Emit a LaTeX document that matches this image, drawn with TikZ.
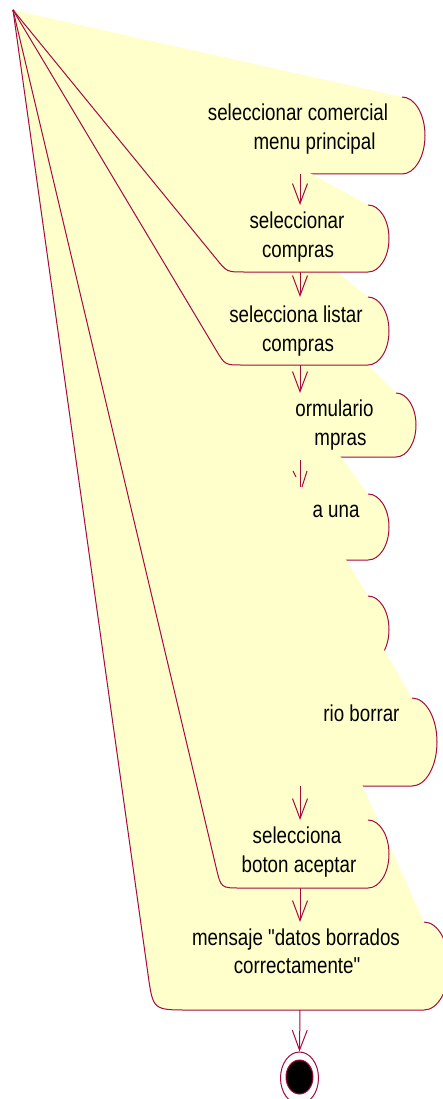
\documentclass[tikz,border=0pt]{standalone}
\usepackage{fontspec}
\setmainfont{Liberation Sans}
\usetikzlibrary{arrows.meta,shapes.geometric}
\definecolor{rline}{RGB}{165,10,65}
\definecolor{rfill}{RGB}{255,255,204}
\newcommand\sqz[1]{\scalebox{0.815}[1]{#1}}
% activity shape: #1 xa, #2 ya, #3 yb, #4 rx, #5 corner x, #6 corner radius
\newcommand\actbox[6]{%
 \pgfmathsetmacro\ABcy{(#2+#3)/2}%
 \pgfmathsetmacro\ABry{(#3-#2)/2}%
 \pgfmathsetmacro\ABxr{#1+#4}%
 \pgfmathsetmacro\ABxk{#1+0.5523*#4}%
 \pgfmathsetmacro\AByu{\ABcy-0.5523*\ABry}%
 \pgfmathsetmacro\AByd{\ABcy+0.5523*\ABry}%
 \pgfmathsetmacro\ABL{100*veclen((13-#5)/100,(10-#3)/100)}%
 \pgfmathsetmacro\ABf{#6/\ABL}%
 \pgfmathsetmacro\ABax{#5+\ABf*(13-#5)}%
 \pgfmathsetmacro\ABay{#3+\ABf*(10-#3)}%
 \pgfmathsetmacro\ABbx{#5+#6}%
 \fill[rfill] (13,10) -- (#1,#2) .. controls (\ABxk,#2) and (\ABxr,\AByu) .. (\ABxr,\ABcy) .. controls (\ABxr,\AByd) and (\ABxk,#3) .. (#1,#3) -- (\ABbx,#3) .. controls (#5,#3) .. (\ABax,\ABay) -- cycle;
 \draw[rline] (#1,#2) .. controls (\ABxk,#2) and (\ABxr,\AByu) .. (\ABxr,\ABcy) .. controls (\ABxr,\AByd) and (\ABxk,#3) .. (#1,#3) -- (\ABbx,#3) .. controls (#5,#3) .. (\ABax,\ABay) -- (13,10);
}
\begin{document}
\begin{tikzpicture}[x=1pt,y=-1pt,line width=1pt,
  lbl/.style={inner sep=0pt,anchor=base,font=\fontsize{23}{29}\selectfont,text=black},
  frag/.style={lbl,anchor=base east},
  flow/.style={draw=rline,-{Straight Barb[length=20pt,width=15pt]}}]
\useasboundingbox (0,0) rectangle (442,1099);
% shapes, in the order in which they overlap
\actbox{402}{97}{174}{23}{225}{12}   % 1
\actbox{396}{393}{457}{20}{225}{12}  % 4
\actbox{368}{494}{560}{21}{225}{12}  % 5
\actbox{368}{596}{663}{21}{225}{12}  % 6
\actbox{412}{698}{786}{25}{225}{12}  % 7
\actbox{424}{922}{1010}{25}{153}{36} % 9
\actbox{368}{820}{888}{21}{221}{20}  % 8
\actbox{368}{297}{365}{21}{225}{17}  % 3
\actbox{368}{205}{272}{21}{227}{17}  % 2
% texts
\node[lbl] (t1a) at (298,121) {\sqz{seleccionar comercial}};
\node[frag] (t1b) at (376,150) {\sqz{menu principal}};
\node[lbl] (t2a) at (297,229) {\sqz{seleccionar}};
\node[lbl] (t2b) at (298,258) {\sqz{compras}};
\node[lbl] (t3a) at (296,322) {\sqz{selecciona listar}};
\node[lbl] (t3b) at (298,351) {\sqz{compras}};
\node[frag] (t4a) at (374,416) {\sqz{ormulario}};
\node[frag] (t4b) at (367,445) {\sqz{mpras}};
\node[frag] (t5a) at (360,517) {\sqz{a una}};
\node[frag] (t7a) at (400,721) {\sqz{rio borrar}};
\node[lbl] (t8a) at (297,843) {\sqz{selecciona}};
\node[lbl] (t8b) at (299,872) {\sqz{boton aceptar}};
\node[lbl] (t9a) at (296,945) {\sqz{mensaje \textquotedbl datos borrados}};
\node[lbl] (t9b) at (297,973) {\sqz{correctamente\textquotedbl}};
% connector end points
\coordinate (b1s) at (300,174); \coordinate (b2n) at (300,205);
\coordinate (b2s) at (300,272); \coordinate (b3n) at (300,297);
\coordinate (b3s) at (300,365); \coordinate (b4n) at (300,393);
\coordinate (b45a) at (300,460); \coordinate (b45b) at (300,487);
\coordinate (b7s) at (300,786); \coordinate (b8n) at (300,820);
\coordinate (b8s) at (300,888); \coordinate (b9n) at (300,922);
\coordinate (b9s) at (300,1010);
% final state
\node (endo) [draw=rline,fill=white,ellipse,minimum width=38pt,minimum height=52pt,inner sep=0pt] at (299.5,1078) {};
\node (endi) [draw=rline,fill=black,ellipse,minimum width=27pt,minimum height=34pt,inner sep=0pt] at (299.5,1077) {};
% connectors
\draw[flow] (b1s) -- (b2n);
\draw[flow] (b2s) -- (b3n);
\draw[flow] (b3s) -- (b4n);
\draw[rline] (b45a) -- (b45b);
\coordinate (h45r) at (307,471); \coordinate (h45t) at (302,487);
\coordinate (h45l) at (293,471); \coordinate (h45m) at (296,477);
\draw[rline] (h45r) -- (h45t);
\draw[rline] (h45l) -- (h45m);
\draw[flow] (b7s) -- (b8n);
\draw[flow] (b8s) -- (b9n);
\draw[flow] (b9s) -- (endo.north);
\end{tikzpicture}
\end{document}
